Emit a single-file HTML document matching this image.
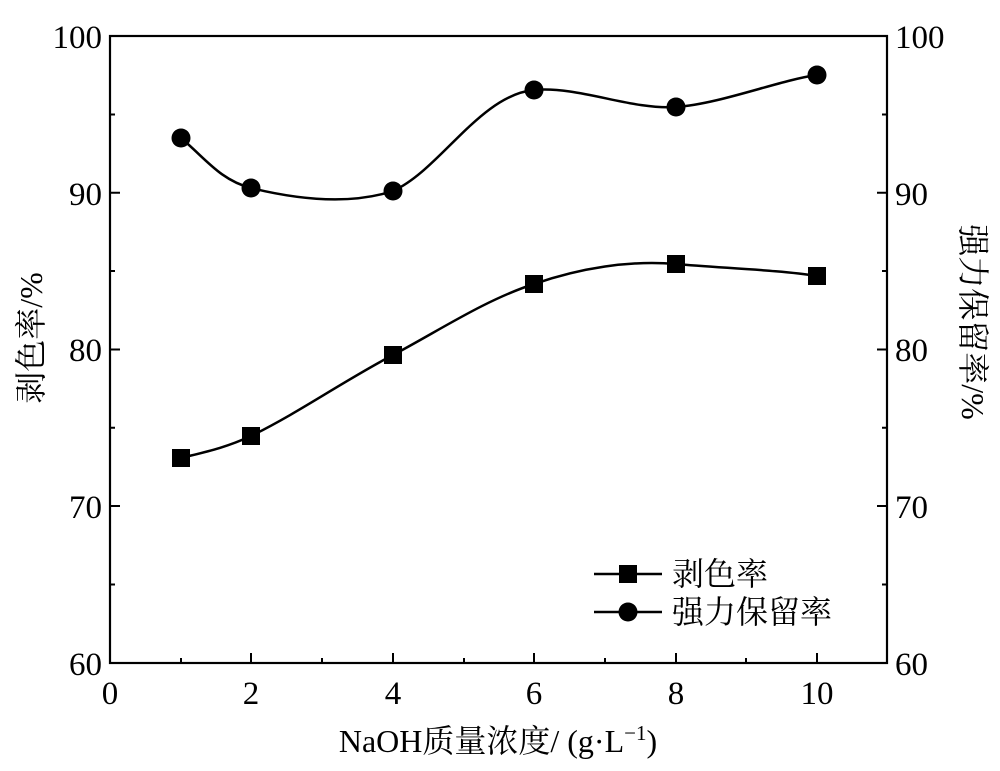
<!DOCTYPE html>
<html><head><meta charset="utf-8"><style>body{margin:0;background:#fff}svg{display:block}text{font-family:"Liberation Serif","Noto Serif CJK SC",serif;fill:#000}</style></head>
<body>
<svg width="1000" height="771" viewBox="0 0 1000 771" xmlns="http://www.w3.org/2000/svg">
<rect x="110" y="36" width="777" height="627" fill="none" stroke="#000" stroke-width="2.2"/>
<g stroke="#000" stroke-width="2">
<path d="M251,663v-10M393,663v-10M534,663v-10M676,663v-10M817,663v-10M181,663v-5M322,663v-5M464,663v-5M605,663v-5M746,663v-5"/>
<path d="M110,506h10M110,349.5h10M110,192.75h10M110,584.5h5M110,427.75h5M110,271h5M110,114.5h5"/>
<path d="M887,506h-10M887,349.5h-10M887,192.75h-10M887,584.5h-5M887,427.75h-5M887,271h-5M887,114.5h-5"/>
</g>
<g font-size="33" text-anchor="middle">
<text x="110" y="704">0</text><text x="251" y="704">2</text><text x="393" y="704">4</text><text x="534" y="704">6</text><text x="676" y="704">8</text><text x="817" y="704">10</text>
</g>
<g font-size="33" text-anchor="end">
<text x="102" y="675">60</text><text x="102" y="518">70</text><text x="102" y="361">80</text><text x="102" y="205">90</text><text x="102" y="48">100</text>
</g>
<g font-size="33" text-anchor="start">
<text x="895" y="675">60</text><text x="895" y="518">70</text><text x="895" y="361">80</text><text x="895" y="205">90</text><text x="895" y="48">100</text>
</g>
<text x="498" y="752" font-size="32" text-anchor="middle">NaOH质量浓度/ (g·L<tspan font-size="21" dy="-12">−1</tspan><tspan dy="12">)</tspan></text>
<text transform="translate(42,338) rotate(-90)" font-size="32" text-anchor="middle">剥色率/%</text>
<text transform="translate(962,322) rotate(90)" font-size="32" text-anchor="middle">强力保留率/%</text>
<g fill="none" stroke="#000" stroke-width="2.5">
<path d="M181,458 C205,452 225,448 251,436 C300,412 345,380 393,355 C440,330 485,300 534,284 C580,268 630,260 676,264 C720,268 780,270 817,276"/>
<path d="M181,138 C205,158 220,180 251,188 C300,200 350,205 393,191 C440,170 480,95 534,90 C580,86 630,110 676,107 C720,104 780,80 817,75"/>
</g>
<g fill="#000">
<rect x="172" y="449" width="18" height="18"/><rect x="242" y="427" width="18" height="18"/><rect x="384" y="346" width="18" height="18"/><rect x="525" y="275" width="18" height="18"/><rect x="667" y="255" width="18" height="18"/><rect x="808" y="267" width="18" height="18"/>
<circle cx="181" cy="138" r="9.5"/><circle cx="251" cy="188" r="9.5"/><circle cx="393" cy="191" r="9.5"/><circle cx="534" cy="90" r="9.5"/><circle cx="676" cy="107" r="9.5"/><circle cx="817" cy="75" r="9.5"/>
</g>
<g stroke="#000" stroke-width="2.5"><path d="M594,574h68M594,612h68"/></g>
<rect x="619" y="565" width="18" height="18"/>
<circle cx="628" cy="612" r="9.5"/>
<g font-size="32"><text x="672" y="585">剥色率</text><text x="672" y="623">强力保留率</text></g>
</svg>
</body></html>
